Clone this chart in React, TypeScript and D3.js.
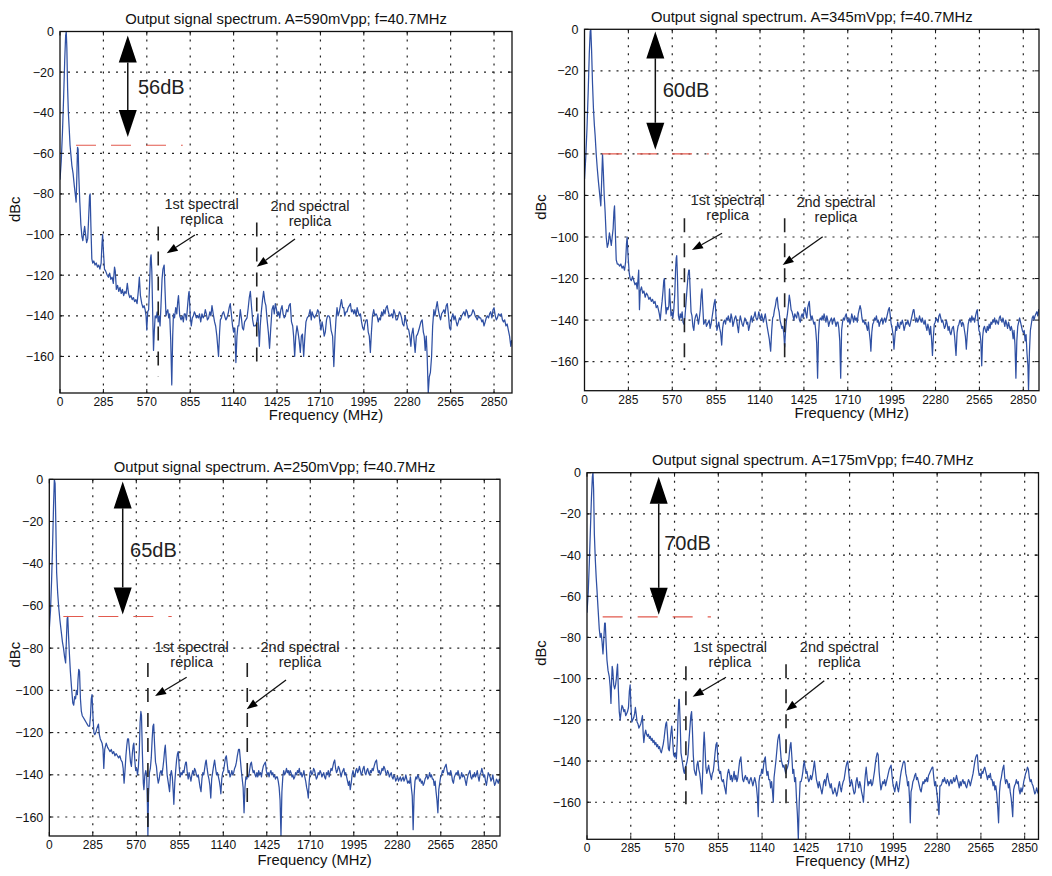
import React from "react";
import * as d3 from "d3";

// ---------- data ----------
const xTicks = [0, 285, 570, 855, 1140, 1425, 1710, 1995, 2280, 2565, 2850];
const yTicks = [0, -20, -40, -60, -80, -100, -120, -140, -160];
const titles = [
  "Output signal spectrum. A=590mVpp; f=40.7MHz",
  "Output signal spectrum. A=345mVpp; f=40.7MHz",
  "Output signal spectrum. A=250mVpp; f=40.7MHz",
  "Output signal spectrum. A=175mVpp; f=40.7MHz",
];
const rangeLabels = ["56dB", "60dB", "65dB", "70dB"];
const spurLevels = [-56, -60, -65, -70];
const yMins = [-178, -174, -169, -178];
const xMaxes = [2968, 2952, 2953, 2940];
const replicaFreqs = [[645, 1292], [649, 1300], [646, 1297], [644, 1296]];
const replicaTops = [[-96, -94], [-91, -91], [-87, -87], [-94, -93]];
const replicaBottoms = [[-170, -166], [-164, -163], [-168, -157], [-161, -163]];
const rangeArrowFreq = [445, 460, 481, 467];
const rangeArrowTop = [-2, -1, -1, -2];
const rangeArrowBottom = [-52, -58, -64, -69];
const spurFrom = [105, 114, 92, 102];
const spurTo = [806, 807, 802, 807];
const rangeLabelPos = [[512, -31], [508, -32.5], [529, -36.7], [503, -37.5]];
const replicaText1 = [[930, -87.4], [930, -84.6], [933, -81.7], [931, -86.9]];
const replicaText2 = [[1642, -88.4], [1633, -85.4], [1643, -81.7], [1643, -86.9]];
const arrow1 = [[886, -100.2, 701, -109.2], [893, -98.2, 698, -106.3], [900, -93.8, 693, -102.7], [905, -99.3, 688, -108.8]];
const arrow2 = [[1543, -102.2, 1292, -115.8], [1547, -99.9, 1287, -113.5], [1551, -95.1, 1293, -109], [1545, -101, 1296, -115.6]];

const spectrum1 = [
[0,-73],[8,-64],[16,-50],[24,-32],[31,-14],[37,-2],[41,0],[45,-8],[50,-28],[55,-40],[60,-47],[66,-56],[72,-61],[78,-66],[86,-70],[94,-76],[100,-80],[106,-84],[111,-70],[115,-57],[119,-58],[124,-72],[130,-84],[137,-95],[144,-101],[150,-103],[156,-99],[162,-96],[168,-100],[175,-104],[182,-102],[188,-92],[194,-81],[198,-80],[203,-96],[209,-112],[215,-114],[222,-113],[230,-115],[238,-114],[246,-116],[254,-115],[262,-117],[270,-114],[276,-104],[280,-100],[285,-108],[292,-117],[300,-118],[310,-120],[318,-121],[326,-119],[334,-122],[342,-121],[350,-124],[358,-116],[363,-118],[370,-127],[378,-125],[386,-128],[394,-126],[402,-129],[410,-127],[418,-130],[426,-128],[434,-129],[442,-124],[450,-129],[458,-131],[466,-130],[474,-132],[482,-131],[490,-133],[498,-132],[506,-134],[514,-128],[521,-121],[528,-130],[537,-134],[545,-136],[552,-135],[559,-137],[565,-140],[570,-147],[576,-138],[582,-137],[588,-125],[594,-112],[598,-110],[603,-118],[609,-140],[614,-157],[619,-148],[625,-140],[632,-141],[638,-138],[645,-143],[651,-140],[657,-145],[663,-135],[670,-122],[676,-117],[684,-115],[690,-128],[696,-140],[702,-138],[708,-137],[714,-141],[720,-139],[727,-152],[734,-174],[740,-150],[745,-139],[752,-141],[760,-136],[767,-139],[773,-133],[778,-130],[786,-140],[795,-142],[803,-140],[810,-143],[816,-139],[822,-139],[830,-142],[838,-135],[845,-129],[848,-128],[855,-140],[862,-145],[869,-141],[876,-140],[882,-138],[888,-139],[895,-141],[902,-140],[909,-141],[916,-139],[924,-143],[932,-139],[940,-141],[947,-140],[954,-137],[961,-139],[968,-142],[976,-141],[984,-138],[991,-140],[998,-135],[1006,-139],[1015,-143],[1022,-145],[1030,-150],[1041,-160],[1048,-148],[1053,-142],[1060,-141],[1066,-139],[1074,-138],[1081,-140],[1089,-142],[1096,-141],[1104,-139],[1111,-136],[1118,-134],[1125,-139],[1133,-145],[1140,-148],[1148,-146],[1155,-163],[1162,-150],[1168,-145],[1174,-145],[1180,-140],[1184,-137],[1191,-141],[1198,-146],[1205,-147],[1212,-143],[1220,-142],[1228,-141],[1236,-136],[1243,-131],[1250,-128],[1258,-136],[1265,-142],[1272,-145],[1282,-145],[1290,-144],[1300,-139],[1305,-148],[1309,-155],[1315,-145],[1322,-138],[1330,-132],[1337,-128],[1345,-133],[1352,-135],[1360,-142],[1368,-148],[1376,-156],[1384,-146],[1392,-137],[1400,-135],[1407,-139],[1414,-134],[1422,-137],[1429,-140],[1436,-138],[1443,-141],[1450,-137],[1458,-135],[1465,-139],[1472,-141],[1480,-140],[1488,-137],[1496,-138],[1504,-135],[1512,-134],[1520,-143],[1528,-145],[1534,-150],[1541,-160],[1548,-150],[1556,-145],[1563,-148],[1570,-152],[1578,-158],[1585,-150],[1592,-149],[1600,-160],[1608,-150],[1615,-143],[1623,-141],[1633,-140],[1642,-137],[1650,-142],[1655,-138],[1664,-140],[1672,-141],[1677,-140],[1685,-139],[1692,-137],[1699,-138],[1706,-143],[1714,-147],[1721,-143],[1728,-146],[1735,-150],[1742,-148],[1750,-142],[1757,-140],[1765,-140],[1772,-141],[1780,-147],[1790,-150],[1798,-165],[1806,-150],[1812,-142],[1819,-136],[1826,-140],[1834,-138],[1841,-135],[1848,-132],[1856,-136],[1863,-136],[1870,-140],[1878,-138],[1885,-138],[1892,-136],[1900,-135],[1907,-134],[1914,-138],[1922,-137],[1929,-139],[1936,-137],[1944,-140],[1951,-136],[1958,-138],[1965,-140],[1973,-139],[1980,-143],[1988,-146],[1995,-147],[2002,-144],[2010,-142],[2017,-142],[2024,-148],[2031,-150],[2038,-158],[2045,-148],[2052,-140],[2060,-137],[2067,-140],[2075,-139],[2082,-140],[2090,-143],[2097,-141],[2104,-142],[2112,-138],[2120,-140],[2126,-137],[2134,-139],[2141,-136],[2148,-135],[2156,-138],[2163,-140],[2170,-140],[2178,-139],[2185,-141],[2192,-137],[2200,-139],[2207,-142],[2214,-142],[2222,-140],[2229,-138],[2236,-139],[2243,-141],[2250,-144],[2258,-145],[2266,-140],[2274,-143],[2282,-146],[2290,-147],[2297,-150],[2304,-155],[2310,-149],[2318,-146],[2325,-152],[2332,-158],[2340,-150],[2348,-149],[2356,-147],[2363,-145],[2370,-143],[2378,-142],[2386,-148],[2392,-150],[2398,-157],[2405,-150],[2411,-160],[2418,-178],[2425,-170],[2432,-168],[2440,-160],[2447,-145],[2455,-137],[2462,-140],[2470,-136],[2477,-133],[2484,-137],[2492,-140],[2499,-142],[2506,-139],[2514,-138],[2521,-137],[2528,-139],[2536,-135],[2543,-134],[2550,-139],[2558,-146],[2565,-147],[2572,-141],[2580,-139],[2587,-142],[2594,-140],[2602,-143],[2608,-145],[2616,-143],[2623,-141],[2630,-142],[2638,-140],[2645,-139],[2652,-138],[2660,-140],[2667,-137],[2674,-138],[2682,-141],[2690,-140],[2697,-140],[2704,-139],[2712,-137],[2719,-138],[2726,-140],[2734,-141],[2740,-142],[2748,-140],[2755,-141],[2762,-141],[2770,-143],[2777,-142],[2784,-145],[2792,-143],[2799,-141],[2806,-140],[2814,-141],[2821,-139],[2828,-138],[2836,-141],[2843,-137],[2850,-136],[2858,-140],[2865,-142],[2872,-141],[2880,-139],[2890,-140],[2898,-139],[2905,-142],[2912,-143],[2920,-142],[2928,-145],[2936,-144],[2944,-147],[2952,-150],[2960,-155],[2966,-152]
];

const spectrum2 = [
[0,-72],[8,-62],[16,-48],[24,-30],[31,-12],[37,-1],[41,0],[46,-10],[52,-26],[58,-38],[64,-46],[69,-51],[76,-60],[83,-67],[90,-73],[98,-79],[106,-85],[112,-72],[117,-60],[122,-68],[128,-80],[134,-88],[141,-100],[148,-105],[155,-103],[162,-98],[168,-101],[174,-104],[180,-100],[186,-96],[191,-88],[195,-85],[200,-97],[206,-111],[213,-113],[220,-113],[228,-114],[236,-113],[244,-115],[252,-114],[260,-116],[267,-112],[273,-103],[277,-100],[282,-108],[290,-117],[296,-120],[304,-121],[312,-119],[320,-121],[328,-123],[336,-122],[342,-125],[348,-120],[352,-116],[357,-135],[362,-126],[370,-124],[378,-127],[386,-126],[394,-129],[402,-127],[410,-128],[418,-130],[426,-129],[434,-131],[442,-130],[450,-132],[458,-131],[466,-134],[474,-133],[480,-135],[486,-137],[492,-140],[498,-135],[504,-131],[510,-126],[515,-121],[519,-120],[524,-130],[530,-137],[536,-134],[542,-135],[548,-133],[552,-125],[556,-130],[562,-138],[568,-136],[574,-139],[580,-135],[586,-128],[592,-115],[596,-110],[599,-109],[604,-120],[610,-138],[616,-140],[622,-137],[628,-139],[634,-136],[640,-141],[646,-142],[652,-139],[658,-133],[664,-127],[672,-119],[677,-116],[681,-116],[686,-125],[692,-136],[698,-138],[704,-143],[710,-145],[716,-140],[722,-138],[728,-137],[734,-139],[740,-142],[746,-139],[752,-135],[758,-128],[763,-125],[768,-133],[774,-142],[780,-141],[786,-140],[792,-143],[798,-142],[804,-141],[810,-140],[816,-144],[822,-142],[828,-139],[836,-135],[842,-132],[848,-130],[854,-138],[860,-145],[866,-143],[872,-141],[878,-144],[884,-146],[891,-152],[897,-144],[903,-141],[910,-140],[916,-142],[922,-139],[928,-140],[934,-138],[940,-140],[946,-141],[952,-137],[958,-139],[964,-143],[970,-141],[976,-139],[982,-138],[988,-140],[994,-143],[1000,-146],[1006,-141],[1012,-138],[1018,-140],[1024,-142],[1030,-143],[1036,-141],[1042,-139],[1048,-140],[1054,-142],[1060,-141],[1066,-145],[1072,-143],[1078,-140],[1084,-138],[1090,-141],[1096,-139],[1102,-138],[1108,-136],[1114,-139],[1120,-140],[1126,-139],[1132,-136],[1138,-138],[1144,-140],[1150,-137],[1156,-139],[1162,-141],[1168,-139],[1174,-137],[1180,-140],[1186,-143],[1193,-146],[1200,-149],[1209,-155],[1216,-145],[1222,-139],[1228,-138],[1234,-135],[1240,-133],[1246,-130],[1252,-129],[1258,-134],[1264,-136],[1270,-140],[1276,-142],[1282,-144],[1288,-143],[1294,-146],[1300,-153],[1306,-145],[1312,-140],[1318,-137],[1324,-133],[1330,-128],[1336,-131],[1342,-135],[1348,-136],[1354,-138],[1360,-140],[1366,-137],[1372,-138],[1378,-139],[1384,-136],[1390,-137],[1396,-140],[1402,-141],[1408,-138],[1414,-137],[1420,-139],[1426,-136],[1432,-134],[1438,-137],[1444,-139],[1450,-134],[1456,-132],[1460,-131],[1466,-137],[1472,-140],[1478,-138],[1484,-140],[1490,-142],[1496,-141],[1502,-145],[1508,-151],[1514,-168],[1520,-147],[1526,-140],[1532,-139],[1538,-140],[1544,-138],[1550,-140],[1556,-137],[1562,-139],[1568,-141],[1574,-138],[1580,-140],[1586,-143],[1592,-141],[1598,-140],[1604,-139],[1610,-142],[1616,-140],[1622,-139],[1628,-141],[1634,-143],[1640,-141],[1646,-141],[1652,-144],[1658,-150],[1664,-168],[1670,-145],[1676,-141],[1682,-139],[1688,-140],[1694,-138],[1700,-137],[1706,-140],[1712,-141],[1718,-139],[1724,-142],[1730,-140],[1736,-137],[1742,-139],[1748,-141],[1754,-138],[1760,-140],[1766,-139],[1772,-141],[1778,-137],[1784,-135],[1790,-133],[1796,-135],[1802,-139],[1808,-141],[1814,-140],[1820,-142],[1826,-141],[1832,-143],[1838,-145],[1844,-141],[1850,-146],[1856,-150],[1860,-155],[1866,-146],[1872,-142],[1878,-141],[1884,-139],[1890,-140],[1896,-138],[1902,-141],[1908,-140],[1914,-143],[1920,-141],[1926,-140],[1932,-139],[1938,-142],[1944,-140],[1950,-139],[1956,-141],[1962,-139],[1968,-137],[1974,-135],[1980,-134],[1986,-138],[1992,-142],[1998,-144],[2004,-147],[2010,-154],[2016,-148],[2022,-143],[2028,-145],[2034,-141],[2040,-143],[2046,-144],[2052,-141],[2058,-142],[2064,-140],[2070,-142],[2076,-145],[2082,-143],[2088,-141],[2094,-142],[2100,-140],[2106,-142],[2112,-143],[2118,-141],[2124,-139],[2130,-137],[2136,-135],[2140,-135],[2146,-139],[2152,-141],[2158,-139],[2164,-141],[2170,-140],[2176,-138],[2182,-140],[2188,-141],[2194,-139],[2200,-141],[2206,-142],[2212,-140],[2218,-143],[2224,-145],[2230,-142],[2236,-144],[2242,-147],[2248,-143],[2254,-149],[2260,-157],[2266,-148],[2272,-142],[2278,-141],[2284,-139],[2290,-140],[2296,-141],[2302,-138],[2308,-137],[2314,-139],[2320,-141],[2326,-140],[2332,-142],[2338,-144],[2344,-143],[2350,-140],[2356,-142],[2362,-145],[2368,-143],[2374,-146],[2380,-147],[2388,-144],[2396,-143],[2404,-148],[2413,-157],[2420,-146],[2426,-143],[2432,-142],[2438,-140],[2444,-141],[2450,-143],[2456,-141],[2462,-142],[2468,-145],[2474,-148],[2480,-154],[2486,-147],[2492,-142],[2498,-140],[2504,-139],[2510,-141],[2516,-138],[2522,-140],[2528,-139],[2534,-141],[2540,-138],[2546,-136],[2551,-135],[2556,-140],[2562,-145],[2568,-146],[2574,-150],[2580,-162],[2586,-148],[2592,-144],[2598,-143],[2604,-145],[2610,-146],[2616,-143],[2622,-145],[2628,-142],[2634,-144],[2640,-141],[2646,-142],[2652,-140],[2658,-141],[2664,-139],[2670,-142],[2676,-140],[2682,-141],[2688,-142],[2694,-139],[2700,-138],[2706,-140],[2712,-141],[2718,-139],[2724,-141],[2730,-143],[2736,-140],[2742,-142],[2748,-144],[2754,-141],[2760,-143],[2766,-145],[2772,-143],[2778,-145],[2784,-149],[2790,-145],[2796,-152],[2802,-168],[2808,-150],[2814,-143],[2820,-141],[2826,-139],[2832,-141],[2838,-143],[2844,-145],[2850,-146],[2856,-145],[2862,-150],[2868,-147],[2874,-156],[2880,-162],[2884,-174],[2890,-155],[2896,-145],[2902,-142],[2908,-139],[2914,-138],[2920,-140],[2926,-138],[2932,-137],[2938,-136],[2944,-138],[2950,-135],[2956,-136],[2962,-134],[2968,-136]
];

const spectrum3 = [
[0,-71],[8,-62],[15,-48],[22,-30],[28,-12],[33,0],[38,-2],[43,-22],[48,-44],[55,-54],[62,-61],[70,-67],[78,-72],[86,-77],[93,-80],[100,-84],[107,-87],[112,-76],[117,-66],[121,-65],[126,-74],[132,-83],[138,-91],[146,-99],[154,-106],[160,-107],[166,-103],[172,-104],[178,-100],[184,-102],[188,-95],[193,-90],[198,-91],[204,-104],[210,-110],[216,-112],[224,-113],[232,-114],[240,-115],[248,-116],[256,-117],[264,-117],[270,-112],[275,-104],[280,-102],[286,-112],[292,-120],[298,-121],[305,-120],[312,-118],[317,-117],[322,-116],[328,-121],[334,-123],[340,-124],[346,-125],[352,-128],[357,-137],[363,-128],[373,-125],[382,-127],[390,-128],[398,-129],[406,-128],[414,-130],[422,-129],[430,-131],[438,-130],[446,-131],[454,-132],[462,-131],[470,-133],[478,-134],[484,-137],[490,-144],[496,-138],[502,-131],[508,-126],[513,-123],[519,-123],[525,-128],[532,-134],[538,-136],[544,-130],[550,-126],[554,-125],[560,-133],[566,-138],[572,-137],[578,-140],[584,-136],[590,-128],[595,-115],[600,-110],[604,-112],[610,-130],[616,-144],[620,-147],[626,-140],[632,-138],[638,-140],[643,-155],[646,-169],[650,-150],[656,-139],[662,-137],[668,-132],[674,-123],[679,-117],[684,-116],[690,-126],[696,-134],[702,-136],[708,-141],[714,-144],[720,-142],[726,-139],[732,-138],[738,-140],[744,-137],[750,-133],[756,-128],[760,-126],[766,-133],[772,-140],[778,-143],[784,-146],[788,-148],[794,-140],[800,-138],[806,-141],[812,-148],[816,-154],[822,-144],[828,-138],[834,-133],[840,-130],[845,-129],[852,-137],[858,-141],[864,-139],[870,-140],[876,-138],[882,-139],[888,-136],[894,-134],[898,-134],[904,-139],[910,-142],[916,-139],[922,-141],[928,-143],[934,-140],[940,-138],[946,-140],[952,-137],[958,-138],[964,-140],[970,-141],[976,-140],[982,-143],[988,-146],[994,-148],[1000,-142],[1006,-139],[1012,-140],[1018,-137],[1024,-134],[1028,-133],[1034,-137],[1040,-140],[1046,-142],[1052,-145],[1058,-151],[1064,-142],[1070,-139],[1076,-136],[1083,-133],[1090,-137],[1096,-140],[1102,-139],[1108,-141],[1114,-143],[1120,-146],[1124,-149],[1130,-142],[1136,-139],[1142,-138],[1148,-135],[1154,-132],[1160,-131],[1166,-135],[1172,-139],[1178,-138],[1184,-141],[1190,-140],[1196,-138],[1202,-140],[1208,-139],[1214,-137],[1220,-136],[1226,-134],[1232,-131],[1240,-128],[1246,-128],[1252,-133],[1258,-138],[1264,-142],[1270,-146],[1276,-158],[1282,-146],[1288,-141],[1294,-142],[1300,-140],[1306,-141],[1312,-138],[1318,-135],[1324,-134],[1330,-137],[1336,-139],[1342,-138],[1348,-140],[1354,-141],[1360,-139],[1366,-141],[1372,-138],[1378,-140],[1384,-139],[1390,-141],[1396,-138],[1402,-136],[1408,-135],[1416,-134],[1422,-138],[1428,-140],[1434,-139],[1440,-141],[1446,-139],[1452,-138],[1458,-140],[1464,-139],[1470,-141],[1476,-140],[1482,-142],[1488,-141],[1494,-141],[1500,-143],[1506,-146],[1512,-152],[1518,-169],[1524,-148],[1530,-141],[1536,-138],[1542,-140],[1548,-139],[1554,-137],[1560,-139],[1566,-138],[1572,-140],[1578,-138],[1584,-139],[1590,-141],[1596,-140],[1602,-142],[1608,-141],[1614,-139],[1620,-140],[1626,-138],[1632,-139],[1638,-137],[1644,-140],[1650,-139],[1656,-141],[1662,-140],[1668,-138],[1674,-141],[1680,-143],[1686,-146],[1692,-148],[1697,-151],[1702,-144],[1708,-139],[1714,-138],[1720,-140],[1726,-139],[1732,-137],[1738,-138],[1744,-140],[1750,-142],[1756,-141],[1762,-139],[1768,-140],[1774,-138],[1780,-139],[1786,-141],[1792,-140],[1798,-139],[1804,-141],[1810,-142],[1816,-139],[1822,-140],[1828,-138],[1834,-141],[1840,-139],[1846,-137],[1852,-138],[1858,-136],[1864,-134],[1870,-133],[1876,-137],[1882,-139],[1888,-138],[1894,-136],[1900,-137],[1906,-139],[1912,-141],[1918,-139],[1924,-138],[1930,-137],[1936,-140],[1942,-139],[1948,-141],[1954,-143],[1960,-145],[1966,-143],[1972,-147],[1978,-144],[1984,-140],[1990,-138],[1996,-140],[2002,-141],[2008,-138],[2014,-137],[2020,-139],[2026,-138],[2032,-136],[2038,-138],[2044,-140],[2050,-139],[2056,-137],[2062,-136],[2068,-139],[2074,-140],[2080,-138],[2086,-137],[2092,-139],[2098,-140],[2104,-138],[2110,-139],[2116,-137],[2122,-138],[2128,-136],[2136,-134],[2144,-133],[2150,-137],[2156,-139],[2162,-138],[2168,-140],[2174,-139],[2180,-137],[2186,-138],[2192,-136],[2198,-137],[2204,-139],[2210,-140],[2216,-138],[2222,-139],[2228,-141],[2234,-140],[2240,-139],[2246,-141],[2252,-142],[2258,-140],[2264,-141],[2270,-143],[2276,-142],[2282,-141],[2288,-143],[2294,-142],[2300,-141],[2306,-143],[2312,-142],[2318,-141],[2324,-143],[2330,-142],[2336,-140],[2342,-142],[2348,-144],[2354,-143],[2360,-144],[2366,-141],[2372,-146],[2378,-150],[2384,-166],[2390,-150],[2396,-143],[2402,-141],[2408,-142],[2414,-140],[2420,-141],[2426,-143],[2432,-142],[2438,-144],[2444,-143],[2450,-145],[2456,-144],[2462,-142],[2468,-141],[2474,-140],[2480,-142],[2486,-141],[2492,-139],[2498,-141],[2504,-140],[2510,-142],[2516,-142],[2522,-145],[2528,-143],[2534,-148],[2540,-152],[2546,-158],[2552,-147],[2558,-144],[2564,-141],[2570,-140],[2576,-138],[2582,-139],[2588,-137],[2594,-136],[2600,-135],[2606,-138],[2612,-140],[2618,-139],[2624,-140],[2630,-138],[2636,-140],[2642,-143],[2648,-144],[2654,-141],[2660,-140],[2666,-139],[2672,-140],[2678,-138],[2684,-140],[2690,-142],[2696,-141],[2702,-139],[2708,-141],[2714,-140],[2720,-141],[2726,-143],[2732,-145],[2738,-142],[2744,-140],[2750,-139],[2756,-138],[2762,-141],[2768,-142],[2774,-140],[2780,-141],[2786,-139],[2792,-141],[2798,-140],[2804,-138],[2810,-141],[2816,-143],[2822,-140],[2828,-139],[2834,-137],[2840,-139],[2846,-141],[2852,-140],[2858,-143],[2864,-145],[2870,-142],[2876,-139],[2882,-140],[2888,-141],[2894,-143],[2900,-142],[2906,-140],[2912,-143],[2918,-145],[2924,-144],[2930,-142],[2936,-143],[2942,-144],[2948,-142],[2953,-143]
];

const spectrum4 = [
[0,-68],[8,-58],[15,-44],[22,-28],[29,-12],[35,-2],[39,0],[43,-8],[48,-30],[54,-42],[60,-51],[65,-57],[72,-66],[80,-76],[86,-80],[92,-78],[98,-82],[104,-88],[110,-80],[115,-73],[119,-73],[124,-82],[130,-91],[137,-96],[145,-99],[151,-104],[156,-112],[160,-102],[164,-94],[168,-96],[174,-103],[180,-105],[186,-103],[191,-100],[196,-95],[199,-93],[204,-105],[210,-116],[216,-120],[222,-116],[228,-113],[234,-114],[240,-116],[246,-115],[252,-118],[258,-117],[264,-116],[270,-114],[276,-106],[281,-103],[286,-113],[292,-121],[298,-120],[304,-119],[310,-117],[315,-114],[320,-117],[326,-121],[332,-122],[338,-124],[344,-123],[350,-122],[356,-120],[361,-118],[366,-127],[370,-131],[376,-127],[382,-125],[388,-127],[394,-128],[400,-127],[406,-129],[412,-128],[418,-130],[424,-129],[430,-131],[436,-130],[442,-132],[448,-131],[454,-133],[460,-132],[466,-134],[472,-133],[478,-135],[484,-136],[490,-134],[496,-132],[502,-129],[508,-125],[513,-122],[518,-121],[524,-127],[530,-134],[536,-135],[542,-130],[547,-126],[552,-123],[558,-130],[564,-137],[570,-138],[576,-136],[582,-139],[588,-130],[593,-118],[598,-110],[601,-110],[606,-120],[612,-136],[618,-139],[624,-142],[630,-145],[634,-146],[640,-143],[646,-142],[652,-140],[658,-137],[664,-130],[670,-124],[676,-118],[681,-116],[686,-124],[692,-137],[698,-144],[704,-146],[710,-147],[716,-142],[722,-140],[728,-144],[734,-146],[740,-150],[748,-156],[754,-144],[759,-132],[763,-126],[768,-133],[774,-143],[780,-146],[786,-144],[792,-142],[798,-145],[804,-147],[810,-149],[816,-146],[822,-145],[828,-141],[834,-136],[840,-132],[846,-131],[852,-139],[858,-144],[864,-146],[870,-145],[876,-149],[882,-150],[888,-149],[894,-152],[900,-154],[905,-156],[910,-150],[916,-146],[922,-144],[928,-146],[934,-149],[940,-147],[946,-150],[952,-148],[958,-145],[964,-149],[970,-147],[976,-150],[982,-148],[988,-144],[994,-140],[1002,-138],[1008,-144],[1014,-149],[1020,-150],[1026,-148],[1032,-147],[1038,-149],[1044,-148],[1050,-150],[1056,-151],[1062,-149],[1068,-148],[1074,-150],[1080,-152],[1086,-150],[1092,-148],[1098,-150],[1104,-153],[1110,-158],[1115,-167],[1120,-150],[1126,-147],[1132,-147],[1138,-144],[1144,-146],[1150,-142],[1156,-139],[1161,-138],[1166,-143],[1172,-147],[1178,-145],[1184,-149],[1190,-149],[1196,-153],[1202,-150],[1208,-155],[1213,-160],[1218,-148],[1224,-144],[1230,-140],[1236,-135],[1242,-130],[1247,-128],[1252,-127],[1258,-133],[1264,-139],[1270,-141],[1276,-143],[1282,-142],[1288,-144],[1294,-146],[1300,-144],[1306,-143],[1312,-141],[1318,-136],[1324,-132],[1328,-131],[1334,-138],[1340,-146],[1346,-144],[1352,-150],[1358,-148],[1364,-158],[1370,-166],[1376,-178],[1382,-160],[1388,-150],[1394,-150],[1400,-148],[1406,-145],[1410,-142],[1415,-140],[1420,-143],[1426,-146],[1432,-145],[1438,-148],[1444,-150],[1450,-149],[1456,-147],[1462,-149],[1468,-147],[1474,-144],[1481,-140],[1488,-145],[1494,-149],[1500,-151],[1506,-153],[1512,-150],[1518,-152],[1524,-154],[1530,-156],[1536,-153],[1542,-150],[1548,-149],[1554,-152],[1560,-148],[1566,-146],[1572,-149],[1578,-151],[1584,-153],[1590,-151],[1596,-154],[1602,-156],[1608,-155],[1614,-153],[1620,-155],[1626,-157],[1632,-155],[1638,-152],[1644,-150],[1650,-153],[1656,-155],[1662,-152],[1668,-150],[1674,-149],[1680,-146],[1686,-143],[1692,-141],[1698,-140],[1704,-145],[1710,-150],[1716,-152],[1722,-149],[1728,-151],[1734,-154],[1740,-156],[1746,-155],[1752,-150],[1758,-148],[1764,-151],[1770,-153],[1776,-150],[1782,-152],[1788,-155],[1794,-157],[1800,-160],[1806,-153],[1812,-147],[1818,-143],[1824,-148],[1830,-152],[1836,-150],[1842,-151],[1848,-149],[1854,-152],[1860,-151],[1866,-148],[1872,-145],[1878,-141],[1884,-138],[1890,-136],[1896,-137],[1902,-145],[1908,-150],[1914,-154],[1920,-152],[1926,-150],[1932,-151],[1938,-149],[1944,-152],[1950,-150],[1956,-148],[1962,-146],[1968,-144],[1974,-143],[1980,-142],[1986,-147],[1992,-151],[1998,-153],[2004,-155],[2010,-152],[2016,-150],[2022,-153],[2028,-155],[2034,-152],[2040,-148],[2046,-145],[2052,-143],[2058,-141],[2064,-140],[2070,-141],[2076,-146],[2082,-148],[2088,-152],[2094,-150],[2100,-158],[2105,-170],[2110,-155],[2116,-153],[2122,-150],[2128,-149],[2134,-147],[2140,-146],[2146,-149],[2152,-148],[2158,-150],[2164,-152],[2170,-154],[2176,-155],[2182,-152],[2188,-150],[2194,-151],[2200,-149],[2206,-150],[2212,-148],[2218,-150],[2224,-147],[2230,-146],[2236,-145],[2242,-144],[2248,-143],[2252,-143],[2258,-148],[2264,-152],[2270,-150],[2276,-154],[2282,-158],[2288,-163],[2292,-166],[2298,-152],[2304,-152],[2310,-151],[2316,-149],[2322,-150],[2328,-148],[2334,-150],[2340,-151],[2346,-149],[2352,-150],[2358,-152],[2364,-150],[2370,-149],[2376,-151],[2382,-150],[2388,-148],[2394,-150],[2400,-149],[2406,-147],[2412,-149],[2418,-151],[2424,-153],[2430,-150],[2436,-152],[2442,-150],[2448,-149],[2454,-151],[2460,-150],[2466,-152],[2472,-153],[2478,-151],[2484,-149],[2490,-150],[2496,-152],[2502,-150],[2508,-148],[2514,-146],[2520,-143],[2526,-140],[2532,-138],[2538,-137],[2542,-137],[2548,-144],[2554,-147],[2560,-146],[2566,-148],[2572,-145],[2578,-146],[2584,-144],[2590,-143],[2596,-145],[2602,-147],[2608,-149],[2614,-147],[2620,-148],[2626,-146],[2632,-149],[2638,-149],[2644,-152],[2650,-150],[2656,-154],[2662,-152],[2668,-156],[2674,-162],[2680,-170],[2686,-155],[2692,-150],[2698,-148],[2704,-145],[2710,-143],[2714,-142],[2720,-148],[2726,-151],[2732,-149],[2738,-150],[2744,-153],[2750,-151],[2756,-155],[2762,-158],[2768,-163],[2772,-167],[2778,-154],[2784,-152],[2790,-151],[2796,-149],[2802,-151],[2808,-150],[2814,-154],[2820,-156],[2826,-153],[2832,-155],[2838,-153],[2844,-150],[2850,-148],[2856,-146],[2862,-145],[2868,-143],[2874,-144],[2880,-148],[2886,-150],[2892,-149],[2898,-151],[2904,-152],[2910,-154],[2916,-156],[2922,-155],[2928,-153],[2934,-155],[2940,-156]
];

const spectra = [spectrum1, spectrum2, spectrum3, spectrum4];

// ---------- layout ----------
const W = 1052, H = 876;
const boxes = [
  { left: 60, top: 31.5, right: 512, bottom: 393, xlabDy: 27, ylabX: 20 },
  { left: 584.5, top: 29.3, right: 1039, bottom: 390.7, xlabDy: 27, ylabX: 546 },
  { left: 49.3, top: 479.3, right: 500, bottom: 836, xlabDy: 29, ylabX: 20 },
  { left: 587, top: 472.7, right: 1038.5, bottom: 839.3, xlabDy: 27, ylabX: 546 },
];
const FONT = "'Liberation Sans', Arial, Helvetica, sans-serif";
const BLUE = "#2f50a3";

function head(x1: number, y1: number, x2: number, y2: number, len: number, wid: number) {
  const dx = x2 - x1, dy = y2 - y1;
  const L = Math.hypot(dx, dy);
  const ux = dx / L, uy = dy / L;
  const bx = x2 - ux * len, by = y2 - uy * len;
  const px = -uy * wid / 2, py = ux * wid / 2;
  return { pts: `${x2},${y2} ${bx + px},${by + py} ${bx - px},${by - py}`, bx, by };
}

const fmt = (v: number) => (v < 0 ? "\u2212" + Math.abs(v) : String(v));

function Panel({ i }: { i: number }) {
  const b = boxes[i];
  const x = d3.scaleLinear().domain([0, xMaxes[i]]).range([b.left, b.right]);
  const y = d3.scaleLinear().domain([yMins[i], 0]).range([b.bottom, b.top]);
  const line = d3.line<number[]>().x((d) => x(d[0])).y((d) => y(d[1]));
  const cx = (b.left + b.right) / 2;
  const cy = (b.top + b.bottom) / 2;

  const ax = x(rangeArrowFreq[i]);
  const aTop = y(rangeArrowTop[i]);
  const aBot = y(rangeArrowBottom[i]);
  const hTop = head(ax, aBot, ax, aTop, 27, 18);
  const hBot = head(ax, aTop, ax, aBot, 27, 18);

  const a1 = arrow1[i], a2 = arrow2[i];
  const h1 = head(x(a1[0]), y(a1[1]), x(a1[2]), y(a1[3]), 11, 8);
  const h2 = head(x(a2[0]), y(a2[1]), x(a2[2]), y(a2[3]), 11, 8);

  return (
    <g>
      <defs>
        <clipPath id={`clip${i}`}>
          <rect x={b.left} y={b.top} width={b.right - b.left} height={b.bottom - b.top} />
        </clipPath>
      </defs>
      <rect x={b.left} y={b.top} width={b.right - b.left} height={b.bottom - b.top} fill="#fff" />
      {xTicks.slice(1).map((t) => (
        <line key={"gx" + t} x1={x(t)} x2={x(t)} y1={b.top} y2={b.bottom} stroke="#222" strokeWidth={1.2} strokeDasharray="2 6" />
      ))}
      {yTicks.slice(1).map((t) => (
        <line key={"gy" + t} x1={b.left} x2={b.right} y1={y(t)} y2={y(t)} stroke="#222" strokeWidth={1.2} strokeDasharray="2 6" />
      ))}
      <path d={line(spectra[i]) || ""} fill="none" stroke={BLUE} strokeWidth={1.25} strokeLinejoin="round" clipPath={`url(#clip${i})`} />
      {replicaFreqs[i].map((f, k) => (
        <line key={"r" + k} x1={x(f)} x2={x(f)} y1={y(replicaTops[i][k])} y2={y(replicaBottoms[i][k])}
          stroke="#222" strokeWidth={1.6} strokeDasharray="14 11" />
      ))}
      <line x1={x(spurFrom[i])} x2={x(spurTo[i])} y1={y(spurLevels[i])} y2={y(spurLevels[i])}
        stroke="#e25a4e" strokeWidth={1.2} strokeDasharray="20 15" />
      <line x1={ax} x2={ax} y1={hTop.by} y2={hBot.by} stroke="#111" strokeWidth={1.5} />
      <polygon points={hTop.pts} fill="#000" />
      <polygon points={hBot.pts} fill="#000" />
      <text x={x(rangeLabelPos[i][0])} y={y(rangeLabelPos[i][1])} fontFamily={FONT} fontSize={20} fill="#222">{rangeLabels[i]}</text>
      <text x={x(replicaText1[i][0])} y={y(replicaText1[i][1])} fontFamily={FONT} fontSize={14.5} textAnchor="middle" fill="#222">1st spectral</text>
      <text x={x(replicaText1[i][0])} y={y(replicaText1[i][1]) + 15} fontFamily={FONT} fontSize={14.5} textAnchor="middle" fill="#222">replica</text>
      <text x={x(replicaText2[i][0])} y={y(replicaText2[i][1])} fontFamily={FONT} fontSize={14.5} textAnchor="middle" fill="#222">2nd spectral</text>
      <text x={x(replicaText2[i][0])} y={y(replicaText2[i][1]) + 15} fontFamily={FONT} fontSize={14.5} textAnchor="middle" fill="#222">replica</text>
      <line x1={x(a1[0])} y1={y(a1[1])} x2={h1.bx} y2={h1.by} stroke="#111" strokeWidth={1.3} />
      <polygon points={h1.pts} fill="#000" />
      <line x1={x(a2[0])} y1={y(a2[1])} x2={h2.bx} y2={h2.by} stroke="#111" strokeWidth={1.3} />
      <polygon points={h2.pts} fill="#000" />
      <rect x={b.left} y={b.top} width={b.right - b.left} height={b.bottom - b.top} fill="none" stroke="#111" strokeWidth={1.3} />
      {xTicks.map((t) => (
        <g key={"tx" + t}>
          <line x1={x(t)} x2={x(t)} y1={b.bottom} y2={b.bottom - 4} stroke="#111" />
          <line x1={x(t)} x2={x(t)} y1={b.top} y2={b.top + 4} stroke="#111" />
          <text x={x(t)} y={b.bottom + 13} fontFamily={FONT} fontSize={12} textAnchor="middle" fill="#111">{t}</text>
        </g>
      ))}
      {yTicks.map((t) => (
        <g key={"ty" + t}>
          <line x1={b.left} x2={b.left + 4} y1={y(t)} y2={y(t)} stroke="#111" />
          <line x1={b.right} x2={b.right - 4} y1={y(t)} y2={y(t)} stroke="#111" />
          <text x={b.left - 6} y={y(t) + 4.5} fontFamily={FONT} fontSize={12.5} textAnchor="end" fill="#111">{fmt(t)}</text>
        </g>
      ))}
      <text x={cx} y={b.top - 7.5} fontFamily={FONT} fontSize={14.8} textAnchor="middle" fill="#111">{titles[i]}</text>
      <text x={cx + 40} y={b.bottom + b.xlabDy} fontFamily={FONT} fontSize={14.8} textAnchor="middle" fill="#111">Frequency (MHz)</text>
      <text transform={`translate(${b.ylabX},${cy - 3}) rotate(-90)`} fontFamily={FONT} fontSize={14.8} textAnchor="middle" fill="#111">dBc</text>
    </g>
  );
}

export default function App() {
  return (
    <svg width={W} height={H} viewBox={`0 0 ${W} ${H}`} style={{ position: "absolute", left: 0, top: 0, background: "#fff" }}>
      <rect width={W} height={H} fill="#fff" />
      {[0, 1, 2, 3].map((i) => (
        <Panel key={i} i={i} />
      ))}
    </svg>
  );
}
